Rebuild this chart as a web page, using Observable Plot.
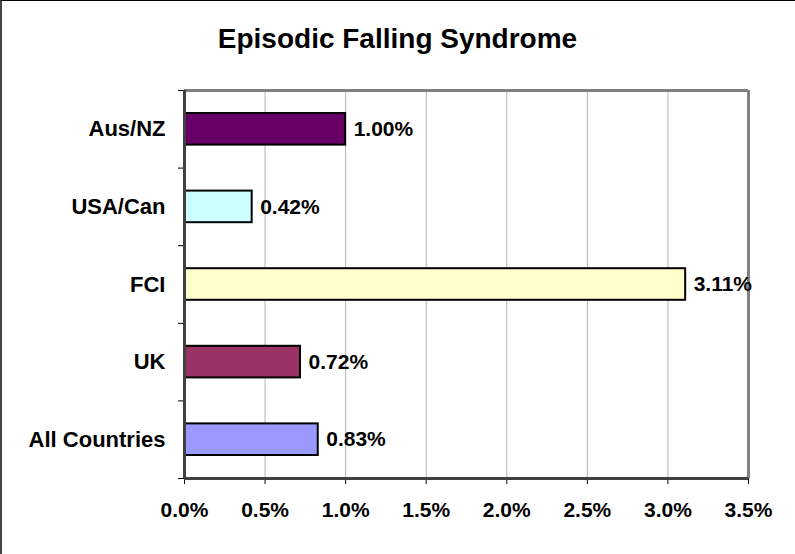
<!DOCTYPE html>
<html>
<head>
<meta charset="utf-8">
<script src="https://cdn.jsdelivr.net/npm/d3@7"></script>
<script src="https://cdn.jsdelivr.net/npm/@observablehq/plot@0.6"></script>
<style>
  html, body { margin: 0; padding: 0; background: #fff; }
  #wrap { position: relative; width: 795px; height: 554px; overflow: hidden; background: #fff; }
  #border { position: absolute; left: 0; top: 0; width: 795px; height: 554px; box-sizing: border-box;
            border-top: 1px solid #000; border-left: 2px solid #444; pointer-events: none; }
  #title { height: 70px; box-sizing: border-box; padding-top: 25px; text-align: center;
           font-family: "Liberation Sans", Arial, sans-serif; font-weight: bold; font-size: 28px;
           line-height: 28px; color: #000; }
</style>
</head>
<body>
<div id="wrap">
  <div id="title">Episodic Falling Syndrome</div>
  <div id="chart"></div>
  <div id="border"></div>
</div>
<script>
const categories = ["Aus/NZ", "USA/Can", "FCI", "UK", "All Countries"];
const values = [0.0100, 0.0042, 0.0311, 0.0072, 0.0083];
const colors = ["#660066", "#CCFFFF", "#FFFFCC", "#993366", "#9999FF"];
const xTicks = [0, 0.005, 0.010, 0.015, 0.020, 0.025, 0.030, 0.035];

const n = categories.length;
const data = categories.map((c, i) => ({c, v: values[i], color: colors[i], pos: n - 1 - i}));
const boundaries = d3.range(0, n + 1);
const centers = d3.range(0, n).map(i => i + 0.5);
const xMax = xTicks[xTicks.length - 1];

const plot = Plot.plot({
  width: 795,
  height: 484,
  marginTop: 20,
  marginBottom: 76,
  marginLeft: 184,
  marginRight: 47,
  style: {fontFamily: "'Liberation Sans', Arial, sans-serif", fontSize: "21px", fontWeight: "bold", color: "#000", background: "transparent", overflow: "visible"},
  x: {domain: [0, xMax]},
  y: {domain: [0, n]},
  color: {type: "identity"},
  marks: [
    Plot.ruleX(xTicks.slice(1, -1), {stroke: "#b4b4b4", strokeWidth: 1}),
    Plot.rect(data, {x1: 0, x2: "v", y1: "pos", y2: d => d.pos + 1, fill: "color", stroke: "#000", strokeWidth: 2, insetTop: 23, insetBottom: 23}),
    Plot.ruleY([n], {stroke: "#808080", strokeWidth: 3}),
    Plot.ruleX([xMax], {stroke: "#808080", strokeWidth: 3}),
    Plot.axisX({ticks: xTicks, tickFormat: d3.format(".1%"), tickSize: 6, tickPadding: 18, label: null, stroke: "#000"}),
    Plot.axisY({ticks: boundaries, tickFormat: () => "", tickSize: 6, label: null, stroke: "#000"}),
    Plot.axisY({ticks: centers, tickFormat: t => categories[n - 1 - Math.floor(t)], tickSize: 0, tickPadding: 19, label: null, fontSize: 22}),
    Plot.ruleX([0], {stroke: "#404040", strokeWidth: 3}),
    Plot.ruleY([0], {stroke: "#404040", strokeWidth: 3}),
    Plot.text(data, {x: "v", y: d => d.pos + 0.5, text: d => d3.format(".2%")(d.v), dx: 8, textAnchor: "start", fontSize: 21, fontWeight: "bold", fill: "#000"})
  ]
});
document.getElementById("chart").appendChild(plot);
</script>
</body>
</html>
